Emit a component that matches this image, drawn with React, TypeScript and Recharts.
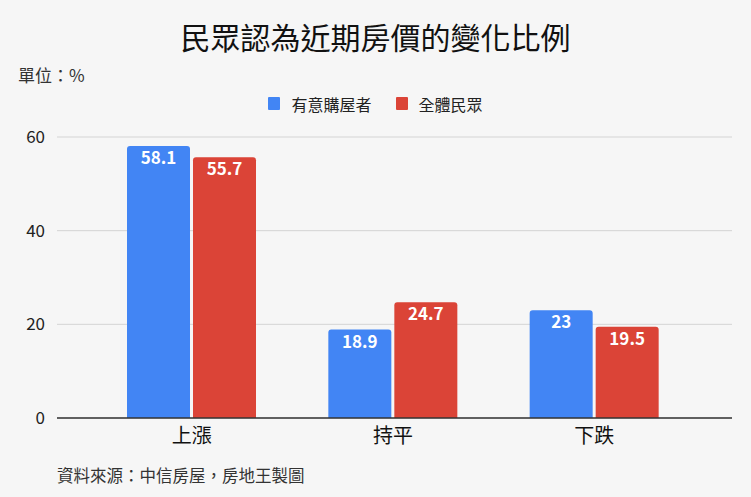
import { Bar, BarChart, CartesianGrid, LabelList, XAxis, YAxis } from "recharts";

const categories = ["上漲", "持平", "下跌"];
const buyers = [58.1, 18.9, 23];
const publicAll = [55.7, 24.7, 19.5];
const yTicks = [0, 20, 40, 60];
const seriesNames = ["有意購屋者", "全體民眾"];

const BLUE = "#4285f4";
const RED = "#db4437";
const FONT = '"Noto Sans CJK TC", "Noto Sans", sans-serif';

const chartData = categories.map((name, i) => ({ name, buyers: buyers[i], publicAll: publicAll[i] }));

function LegendItem({ color, label }: { color: string; label: string }) {
  return (
    <span style={{ display: "inline-flex", alignItems: "center", margin: "0 12px" }}>
      <span style={{ display: "inline-block", width: 12, height: 13, background: color, borderRadius: 1, marginRight: 11 }} />
      <span>{label}</span>
    </span>
  );
}

export default function App() {
  return (
    <div
      style={{
        position: "fixed",
        top: 0,
        left: 0,
        width: 751,
        height: 497,
        background: "#f6f6f6",
        fontFamily: FONT,
        color: "#222",
        overflow: "hidden"
      }}
    >
      <div style={{ position: "absolute", top: 14, left: 0, width: 751, textAlign: "center", fontSize: 30, fontWeight: 400, color: "#111", lineHeight: "44px" }}>
        民眾認為近期房價的變化比例
      </div>
      <div style={{ position: "absolute", top: 62, left: 18, fontSize: 17, color: "#333", lineHeight: "26px" }}>單位：%</div>
      <div
        style={{ position: "absolute", top: 91, left: 0, width: 751, textAlign: "center", fontSize: 16, color: "#222", lineHeight: "24px" }}
      >
        <LegendItem color={BLUE} label={seriesNames[0]} />
        <LegendItem color={RED} label={seriesNames[1]} />
      </div>
      <div style={{ position: "absolute", top: 462, left: 57, fontSize: 16.5, color: "#333", lineHeight: "26px" }}>
        資料來源：中信房屋，房地王製圖
      </div>
      <div style={{ position: "absolute", top: 0, left: 0 }}>
        <BarChart
          width={751}
          height={497}
          data={chartData}
          margin={{ top: 137, right: 19, bottom: 39, left: 0 }}
          barCategoryGap={36}
          barGap={3}
        >
          <CartesianGrid vertical={false} stroke="#d4d4d4" />
          <XAxis
            dataKey="name"
            padding={{ left: 34, right: 37 }}
            tickLine={false}
            axisLine={{ stroke: "#333", strokeWidth: 1.5 }}
            tick={{ fontSize: 20, fill: "#111", fontFamily: FONT }}
            tickMargin={5}
            height={40}
          />
          <YAxis
            width={57}
            domain={[0, 60]}
            ticks={yTicks}
            tickLine={false}
            axisLine={false}
            tick={{ fontSize: 17, fill: "#222", fontFamily: FONT }}
            tickMargin={6}
          />
          <Bar dataKey="buyers" name={seriesNames[0]} fill={BLUE} radius={[3, 3, 0, 0]} isAnimationActive={false}>
            <LabelList dataKey="buyers" position="insideTop" offset={6} fill="#fff" fontSize={17} fontWeight="bold" fontFamily={FONT} />
          </Bar>
          <Bar dataKey="publicAll" name={seriesNames[1]} fill={RED} radius={[3, 3, 0, 0]} isAnimationActive={false}>
            <LabelList dataKey="publicAll" position="insideTop" offset={6} fill="#fff" fontSize={17} fontWeight="bold" fontFamily={FONT} />
          </Bar>
        </BarChart>
      </div>
    </div>
  );
}
